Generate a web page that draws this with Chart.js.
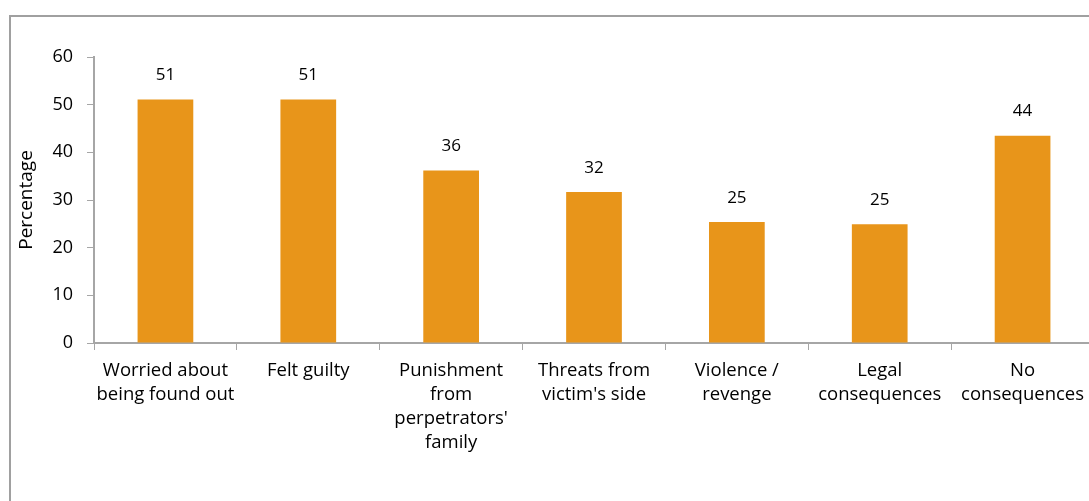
<!DOCTYPE html>
<html>
<head>
<meta charset="utf-8">
<script src="https://cdn.jsdelivr.net/npm/chart.js@4.4.1/dist/chart.umd.min.js"></script>
<style>
    body { margin: 0; background: #fff; overflow: hidden; }
    #frame { position: absolute; left: 9px; top: 15px; width: 1200px; height: 600px; border: 2px solid #a0a0a0; }
    #wrap { position: absolute; left: 0; top: 0; width: 1100px; height: 501px; }
</style>
</head>
<body>
<div id="frame"></div>
<div id="wrap"><canvas id="barChart" width="1100" height="501"></canvas></div>
<script>
const categories = [
    ["Worried about", "being found out"],
    ["Felt guilty"],
    ["Punishment", "from", "perpetrators'", "family"],
    ["Threats from", "victim's side"],
    ["Violence /", "revenge"],
    ["Legal", "consequences"],
    ["No", "consequences"]
];
const percentages = [51.1, 51.1, 36.2, 31.7, 25.4, 24.9, 43.5];
const yTicks = [0, 10, 20, 30, 40, 50, 60];

const barColor = "#e8951a";
const axisColor = "#a6a6a6";
const fontFamily = "'Open Sans', sans-serif";

// value labels above each bar
const valueLabels = {
    id: "valueLabels",
    afterDatasetsDraw(chart) {
        const ctx = chart.ctx;
        const meta = chart.getDatasetMeta(0);
        ctx.save();
        ctx.font = "17px " + fontFamily;
        ctx.fillStyle = "#000";
        ctx.textAlign = "center";
        ctx.textBaseline = "middle";
        meta.data.forEach((bar, i) => {
            ctx.fillText(Math.round(percentages[i]), bar.x, bar.y - 24);
        });
        ctx.restore();
    }
};

const ctx = document.getElementById("barChart").getContext("2d");
const chart = new Chart(ctx, {
    type: "bar",
    data: {
        labels: categories,
        datasets: [{
            data: percentages,
            backgroundColor: barColor,
            barPercentage: 0.39,
            categoryPercentage: 1.0
        }]
    },
    options: {
        responsive: false,
        animation: false,
        layout: { padding: { top: 57, right: 6, left: 0, bottom: 0 } },
        plugins: {
            legend: { display: false },
            tooltip: { enabled: false }
        },
        scales: {
            x: {
                grid: {
                    display: true,
                    drawOnChartArea: false,
                    offset: true,
                    tickLength: 7,
                    color: axisColor
                },
                border: { color: axisColor, width: 2 },
                ticks: {
                    color: "#000",
                    font: { family: fontFamily, size: 18.5, lineHeight: 1.3 },
                    padding: 9,
                    maxRotation: 0,
                    autoSkip: false
                },
                afterFit(scale) { scale.height = 158; }
            },
            y: {
                min: 0,
                max: 60,
                afterBuildTicks(scale) { scale.ticks = yTicks.map(v => ({ value: v })); },
                grid: {
                    display: true,
                    drawOnChartArea: false,
                    tickLength: 7,
                    color: axisColor
                },
                border: { color: axisColor, width: 2 },
                ticks: {
                    color: "#000",
                    font: { family: fontFamily, size: 18 },
                    padding: 14
                },
                title: {
                    display: true,
                    text: "Percentage",
                    color: "#000",
                    font: { family: fontFamily, size: 19 },
                    padding: { top: 15, bottom: 0 }
                },
                afterFit(scale) { scale.width = 94; }
            }
        }
    },
    plugins: [valueLabels]
});
</script>
</body>
</html>
